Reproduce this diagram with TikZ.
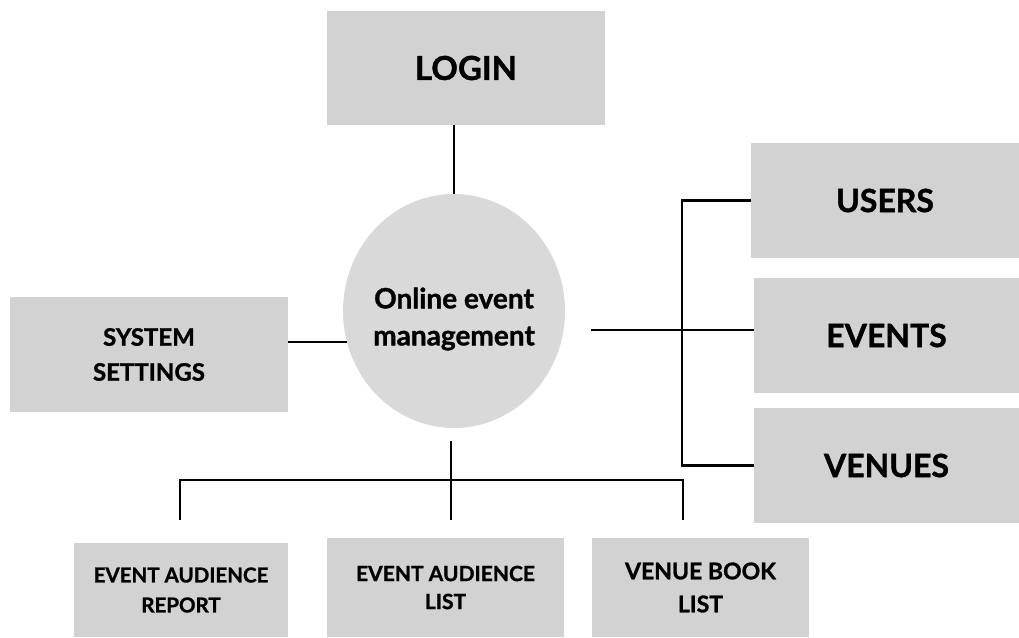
\documentclass[tikz,border=0pt]{standalone}
\usepackage{fontspec}
\setmainfont{Lato}[BoldFeatures={FakeBold=1.2}]
\usetikzlibrary{shapes.geometric}
\definecolor{boxgray}{HTML}{D2D2D2}
\definecolor{hubgray}{HTML}{D9D9D9}
\tikzset{
    box/.style={rectangle, fill=boxgray, inner sep=0pt, align=center, font=\bfseries},
    link/.style={draw=black, line width=2.2pt}
}
\begin{document}
\begin{tikzpicture}[x=1pt,y=-1pt]
    \useasboundingbox (0,0) rectangle (1019,637);
    % centre
    \node[ellipse, fill=hubgray, minimum width=222pt, minimum height=234pt] (hub) at (454,311) {};
    \node[align=center, font=\bfseries\fontsize{28}{37}\selectfont] (hubtext) at ([yshift=-8pt]hub.center) {Online event\\management};
    % top and left
    \node[box, minimum width=278pt, minimum height=114pt, font=\bfseries\fontsize{33}{38}\selectfont] (login) at (466,68) {LOGIN};
    \node[box, minimum width=278pt, minimum height=115pt, font=\bfseries\fontsize{24}{35}\selectfont] (settings) at (149,354.5) {SYSTEM\\SETTINGS};
    % right column
    \node[box, minimum width=268pt, minimum height=115pt, font=\bfseries\fontsize{32}{36}\selectfont] (users) at (885,200.5) {USERS};
    \node[box, minimum width=265pt, minimum height=115pt, font=\bfseries\fontsize{32}{36}\selectfont] (events) at (886.5,335.5) {EVENTS};
    \node[box, minimum width=265pt, minimum height=115pt, font=\bfseries\fontsize{32}{36}\selectfont] (venues) at (886.5,465.5) {VENUES};
    % bottom row
    \node[box, minimum width=214pt, minimum height=94pt, font=\bfseries\fontsize{20.5}{30}\selectfont] (report) at (181,590) {EVENT AUDIENCE\\REPORT};
    \node[box, minimum width=237pt, minimum height=99pt, font=\bfseries\fontsize{21}{28}\selectfont] (audlist) at (445.5,587.5) {EVENT AUDIENCE\\LIST};
    \node[box, minimum width=217pt, minimum height=99pt, font=\bfseries\fontsize{23}{33}\selectfont] (booklist) at (700.5,587.5) {VENUE BOOK\\LIST};

    \coordinate (rt) at (591,330);
    \coordinate (bus) at (682,330);
    \coordinate (bt) at (451,441);
    \coordinate (jl) at (180,480);
    \coordinate (jr) at (683,480);

    \draw[link] (hub.north) -- (hub.north |- login.south);
    \draw[link] (settings.east |- hub.196) -- (hub.196);
    \draw[link] (rt) -- (events.west |- rt);
    \draw[link] (users.west) -| (bus) |- (venues.west);
    \draw[link] (bt) -- ([yshift=18pt]audlist.north -| bt);
    \draw[link] ([yshift=23pt]report.north -| jl) |- (jr) -- ([yshift=18pt]booklist.north -| jr);
\end{tikzpicture}
\end{document}
